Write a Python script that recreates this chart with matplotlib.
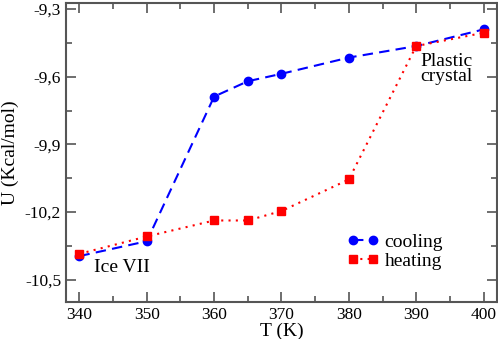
import matplotlib.pyplot as plt
from matplotlib.ticker import MultipleLocator, FuncFormatter

# temperature (K) and energy (Kcal/mol)
temps = [340, 350, 360, 365, 370, 380, 390, 400]
cooling = [-10.396, -10.330, -9.688, -9.620, -9.587, -9.515, -9.464, -9.390]
heating = [-10.386, -10.309, -10.238, -10.238, -10.196, -10.056, -9.464, -9.405]

plt.rcParams["font.family"] = ["Liberation Serif", "DejaVu Serif"]

fig = plt.figure(figsize=(4.98, 3.39), dpi=100)
ax = fig.add_axes([0.1325, 0.109, 0.8655, 0.882])

ax.plot(temps, cooling, color="#0000ff", linestyle=(0, (5, 3)), linewidth=1.5,
        marker="o", markersize=6, label="cooling", zorder=3)
ax.plot(temps, heating, color="#ff0000", linestyle=(0, (1, 2.5)), linewidth=1.5,
        marker="s", markersize=6, label="heating", zorder=3)

ax.set_xlim(338, 402)
ax.set_ylim(-10.6, -9.273)
ax.xaxis.set_major_locator(MultipleLocator(10))
ax.xaxis.set_minor_locator(MultipleLocator(5))
ax.yaxis.set_major_locator(MultipleLocator(0.3))
ax.yaxis.set_minor_locator(MultipleLocator(0.15))
ax.yaxis.set_major_formatter(FuncFormatter(lambda v, p: f"{v:.1f}".replace(".", ",")))

ax.tick_params(which="both", direction="in", top=True, right=True,
               color="#555555", labelsize=12.5)
ax.tick_params(which="major", length=7, width=1.2)
ax.tick_params(which="minor", length=4, width=1.2)
for s in ax.spines.values():
    s.set_color("#555555")
    s.set_linewidth(1.5)

ax.set_xlabel("T (K)", fontsize=14, labelpad=0)
ax.set_ylabel("U (Kcal/mol)", fontsize=14, labelpad=4)

ax.text(342.2, -10.447, "Ice VII", fontsize=14, va="center")
ax.text(394.5, -9.567, "Plastic\ncrystal", fontsize=14, ha="center", va="center",
        linespacing=0.85)

ax.legend(loc="upper left", bbox_to_anchor=(0.635, 0.255), frameon=False,
          numpoints=2, handlelength=1.6, handletextpad=0.3, fontsize=14,
          labelspacing=0.05, borderaxespad=0)

fig.savefig("out.png", dpi=100)
